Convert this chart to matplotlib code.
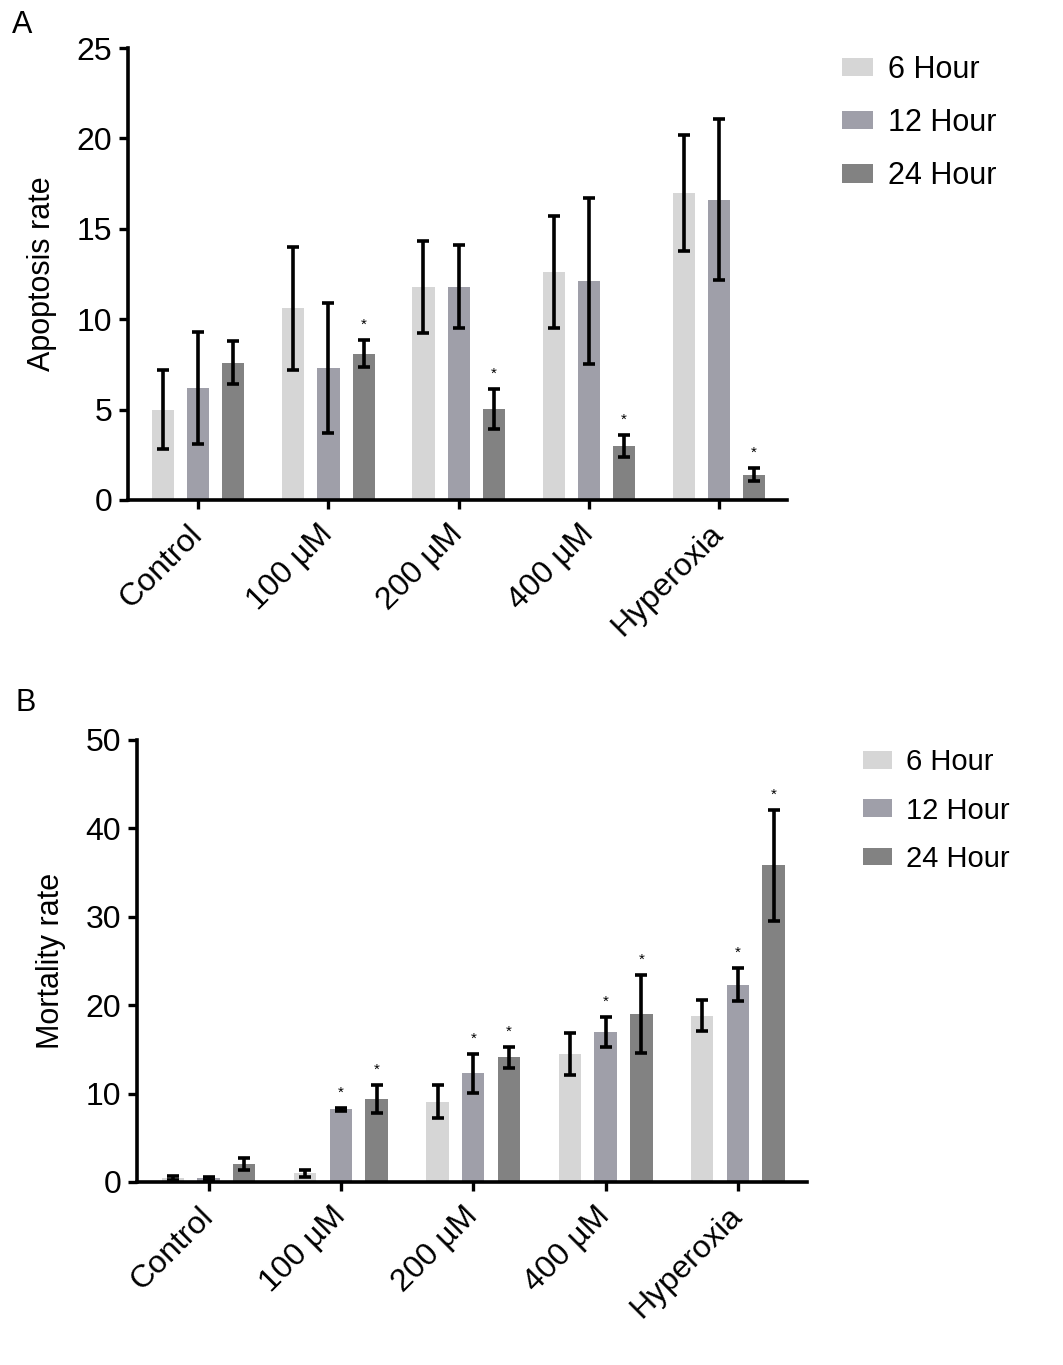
import matplotlib
matplotlib.use("Agg")
import matplotlib.pyplot as plt
import numpy as np

plt.rcParams['font.family'] = ['Liberation Sans', 'DejaVu Sans']

groups = ['Control', '100 µM', '200 µM', '400 µM', 'Hyperoxia']
series = ['6 Hour', '12 Hour', '24 Hour']
colors = ['#d6d6d6', '#9f9fa9', '#828282']

# panel A - apoptosis rate
apo_6h = [5.0, 10.6, 11.8, 12.6, 17.0]
apo_12h = [6.2, 7.3, 11.8, 12.1, 16.6]
apo_24h = [7.6, 8.1, 5.05, 3.0, 1.4]
apo_err_6h = [2.2, 3.4, 2.55, 3.1, 3.2]
apo_err_12h = [3.1, 3.6, 2.3, 4.6, 4.45]
apo_err_24h = [1.2, 0.75, 1.1, 0.6, 0.35]
apo_star_6h = [False] * 5
apo_star_12h = [False] * 5
apo_star_24h = [False, True, True, True, True]

# panel B - mortality rate
mor_6h = [0.45, 1.0, 9.1, 14.5, 18.8]
mor_12h = [0.4, 8.2, 12.3, 17.0, 22.3]
mor_24h = [2.0, 9.4, 14.1, 19.0, 35.8]
mor_err_6h = [0.2, 0.4, 1.9, 2.4, 1.75]
mor_err_12h = [0.2, 0.15, 2.2, 1.7, 1.85]
mor_err_24h = [0.7, 1.6, 1.2, 4.4, 6.3]
mor_star_6h = [False] * 5
mor_star_12h = [False, True, True, True, True]
mor_star_24h = [False, True, True, True, True]


def draw_panel(ax, values, errors, stars, ylim, yticks, ylabel):
    x = np.arange(len(groups))
    width = 0.17
    offsets = [-0.27, 0, 0.27]
    for vals, errs, st, col, off, name in zip(values, errors, stars, colors, offsets, series):
        ax.bar(x + off, vals, width, color=col, label=name, zorder=2)
        ax.errorbar(x + off, vals, yerr=errs, fmt='none', ecolor='black',
                    elinewidth=2.6, capsize=4, capthick=2.6, zorder=3)
        for xi, v, e, s in zip(x + off, vals, errs, st):
            if s:
                ax.annotate('*', (xi, v + e), xytext=(0, 11), textcoords='offset points',
                            ha='center', va='center', fontsize=11)
    ax.set_xlim(-0.54, len(groups) - 0.48)
    ax.set_ylim(*ylim)
    ax.set_yticks(yticks)
    ax.set_xticks(x)
    ax.set_xticklabels(groups, rotation=45, ha='right', va='center',
                       rotation_mode='anchor', fontsize=23)
    ax.tick_params(axis='y', labelsize=23, width=2.4, length=6.5, direction='out', pad=5)
    ax.tick_params(axis='x', width=2.4, length=6.5, direction='out', pad=15)
    for sp in ['top', 'right']:
        ax.spines[sp].set_visible(False)
    for sp in ['left', 'bottom']:
        ax.spines[sp].set_linewidth(2.6)
    ax.set_ylabel(ylabel, fontsize=22, labelpad=14)


fig = plt.figure(figsize=(10.63, 13.65), dpi=100)

ax1 = fig.add_axes([0.1204, 0.6337, 0.6196, 0.3311])
draw_panel(ax1, [apo_6h, apo_12h, apo_24h], [apo_err_6h, apo_err_12h, apo_err_24h],
           [apo_star_6h, apo_star_12h, apo_star_24h], (0, 25), [0, 5, 10, 15, 20, 25],
           'Apoptosis rate')
ax1.legend(loc='upper left', bbox_to_anchor=(1.043, 1.046), frameon=False, fontsize=22,
           handlelength=1.0, handleheight=0.55, labelspacing=0.76, handletextpad=0.5)

ax2 = fig.add_axes([0.1289, 0.1341, 0.6301, 0.3238])
draw_panel(ax2, [mor_6h, mor_12h, mor_24h], [mor_err_6h, mor_err_12h, mor_err_24h],
           [mor_star_6h, mor_star_12h, mor_star_24h], (0, 50), [0, 10, 20, 30, 40, 50],
           'Mortality rate')
ax2.legend(loc='upper left', bbox_to_anchor=(1.045, 1.041), frameon=False, fontsize=21,
           handlelength=1.0, handleheight=0.55, labelspacing=0.7, handletextpad=0.48)

fig.text(0.011, 0.993, 'A', fontsize=22, va='top')
fig.text(0.015, 0.496, 'B', fontsize=22, va='top')

fig.savefig('out.png', dpi=100)
